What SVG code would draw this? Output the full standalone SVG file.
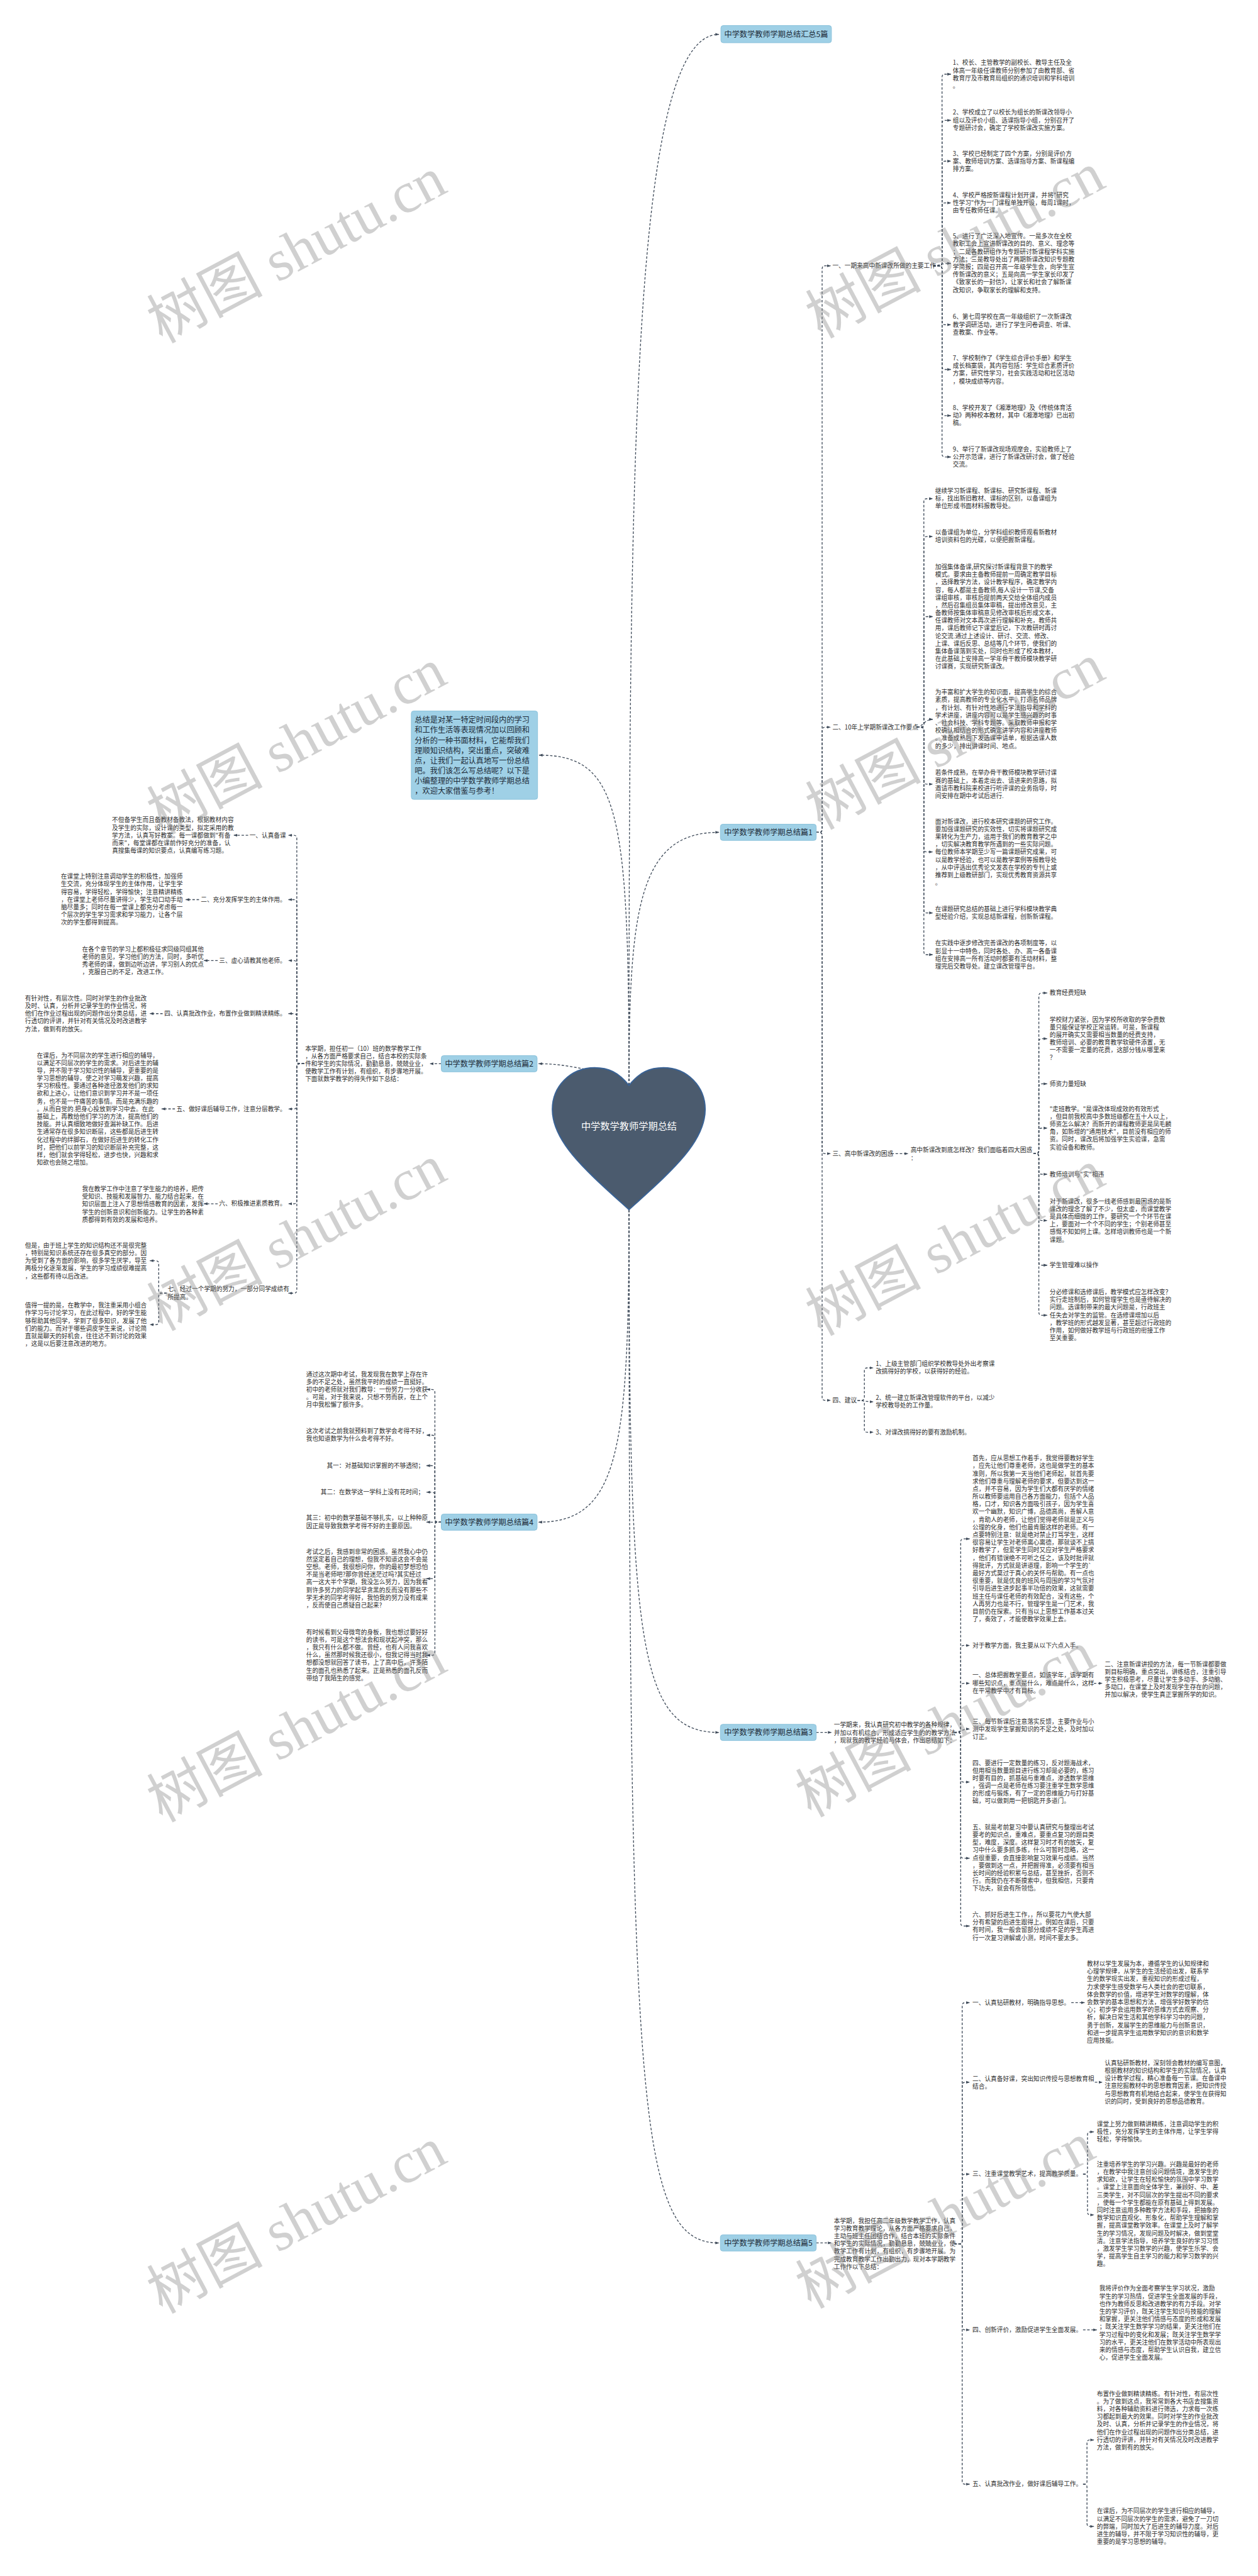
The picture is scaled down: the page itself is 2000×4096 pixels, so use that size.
<svg xmlns="http://www.w3.org/2000/svg" width="2000" height="4096" viewBox="0 0 2000 4096">
<defs>
<style>
.t{font-family:"Noto Sans CJK SC","Liberation Sans",sans-serif;font-size:12.4px;fill:#2d2d2d}
.b{font-family:"Noto Sans CJK SC","Liberation Sans",sans-serif;font-size:15.6px;fill:#1d2b38}
.hb{font-family:"Noto Sans CJK SC","Liberation Sans",sans-serif;font-size:19.5px;fill:#ffffff}
.bx{fill:#9fd0e6;stroke:#87c0da;stroke-width:1.2}
.c{fill:none;stroke:#3e4a59;stroke-width:1.7;stroke-dasharray:5 3.5;marker-end:url(#a)}
.w{font-family:"Liberation Serif","Noto Sans CJK SC",serif;font-size:118px;fill:#8a8a8a;fill-opacity:0.4}
</style>
<marker id="a" viewBox="0 0 10 10" refX="9" refY="5" markerWidth="8" markerHeight="8" orient="auto" markerUnits="userSpaceOnUse"><path d="M0,1.5 L10,5 L0,8.5 z" fill="#3e4a59"/></marker>
</defs>
<rect width="2000" height="4096" fill="#ffffff"/>
<g transform="scale(0.78125)">
<g id="connectors">
<path class="c" d="M1280,2209 C1280,900 1290,70 1463,70"/>
<path class="c" d="M1280,2209 C1280,1850 1300,1694 1463,1694"/>
<path class="c" d="M1280,2209 C1280,1650 1260,1537 1097,1537"/>
<path class="c" d="M1190,2176 C1150,2168 1125,2165 1096,2165"/>
<path class="c" d="M1280,2462 C1280,2950 1260,3098 1096,3098"/>
<path class="c" d="M1280,2462 C1280,3350 1300,3526 1463,3526"/>
<path class="c" d="M1280,2462 C1280,4300 1300,4565 1463,4565"/>
<path class="c" d="M1661,1694 H1667 Q1673,1694 1673,1688 V547 Q1673,541 1679,541 H1690"/>
<path class="c" d="M1661,1694 H1667 Q1673,1694 1673,1688 V1486 Q1673,1480 1679,1480 H1690"/>
<path class="c" d="M1661,1694 H1667 Q1673,1694 1673,1700 V2342 Q1673,2348 1679,2348 H1690"/>
<path class="c" d="M1661,1694 H1667 Q1673,1694 1673,1700 V2844 Q1673,2850 1679,2850 H1690"/>
<path class="c" d="M1899,541 H1911 Q1917,541 1917,535 V157 Q1917,151 1923,151 H1935"/>
<path class="c" d="M1899,541 H1911 Q1917,541 1917,535 V251 Q1917,245 1923,245 H1935"/>
<path class="c" d="M1899,541 H1911 Q1917,541 1917,535 V334 Q1917,328 1923,328 H1935"/>
<path class="c" d="M1899,541 H1911 Q1917,541 1917,535 V419 Q1917,413 1923,413 H1935"/>
<path class="c" d="M1899,541 C1910,541 1915,536 1935,536"/>
<path class="c" d="M1899,541 H1911 Q1917,541 1917,547 V655 Q1917,661 1923,661 H1935"/>
<path class="c" d="M1899,541 H1911 Q1917,541 1917,547 V746 Q1917,752 1923,752 H1935"/>
<path class="c" d="M1899,541 H1911 Q1917,541 1917,547 V840 Q1917,846 1923,846 H1935"/>
<path class="c" d="M1899,541 H1911 Q1917,541 1917,547 V924 Q1917,930 1923,930 H1935"/>
<path class="c" d="M1866,1480 H1874 Q1880,1480 1880,1474 V1021 Q1880,1015 1886,1015 H1898"/>
<path class="c" d="M1866,1480 H1874 Q1880,1480 1880,1474 V1098 Q1880,1092 1886,1092 H1898"/>
<path class="c" d="M1866,1480 H1874 Q1880,1480 1880,1474 V1261 Q1880,1255 1886,1255 H1898"/>
<path class="c" d="M1866,1480 C1876,1480 1882,1464 1898,1464"/>
<path class="c" d="M1866,1480 H1874 Q1880,1480 1880,1486 V1590 Q1880,1596 1886,1596 H1898"/>
<path class="c" d="M1866,1480 H1874 Q1880,1480 1880,1486 V1728 Q1880,1734 1886,1734 H1898"/>
<path class="c" d="M1866,1480 H1874 Q1880,1480 1880,1486 V1852 Q1880,1858 1886,1858 H1898"/>
<path class="c" d="M1866,1480 H1874 Q1880,1480 1880,1486 V1937 Q1880,1943 1886,1943 H1898"/>
<path class="c" d="M1814,2348 H1848"/>
<path class="c" d="M2103,2348 H2108 Q2114,2348 2114,2342 V2027 Q2114,2021 2120,2021 H2131"/>
<path class="c" d="M2103,2348 H2108 Q2114,2348 2114,2342 V2120 Q2114,2114 2120,2114 H2131"/>
<path class="c" d="M2103,2348 H2108 Q2114,2348 2114,2342 V2212 Q2114,2206 2120,2206 H2131"/>
<path class="c" d="M2103,2348 H2108 Q2114,2348 2114,2342 V2302 Q2114,2296 2120,2296 H2131"/>
<path class="c" d="M2103,2348 H2108 Q2114,2348 2114,2354 V2384 Q2114,2390 2120,2390 H2131"/>
<path class="c" d="M2103,2348 H2108 Q2114,2348 2114,2354 V2478 Q2114,2484 2120,2484 H2131"/>
<path class="c" d="M2103,2348 H2108 Q2114,2348 2114,2354 V2569 Q2114,2575 2120,2575 H2131"/>
<path class="c" d="M2103,2348 H2108 Q2114,2348 2114,2354 V2671 Q2114,2677 2120,2677 H2131"/>
<path class="c" d="M1745,2850 H1753 Q1759,2850 1759,2844 V2790 Q1759,2784 1765,2784 H1777"/>
<path class="c" d="M1745,2850 C1755,2850 1762,2853 1777,2853"/>
<path class="c" d="M1745,2850 H1753 Q1759,2850 1759,2856 V2909 Q1759,2915 1765,2915 H1777"/>
<path class="c" d="M898,2165 H875"/>
<path class="c" d="M619,2165 H610 Q604,2165 604,2159 V1706 Q604,1700 598,1700 H587"/>
<path class="c" d="M619,2165 H610 Q604,2165 604,2159 V1837 Q604,1831 598,1831 H587"/>
<path class="c" d="M619,2165 H610 Q604,2165 604,2159 V1961 Q604,1955 598,1955 H587"/>
<path class="c" d="M619,2165 H610 Q604,2165 604,2159 V2069 Q604,2063 598,2063 H587"/>
<path class="c" d="M619,2165 H610 Q604,2165 604,2171 V2251 Q604,2257 598,2257 H587"/>
<path class="c" d="M619,2165 H610 Q604,2165 604,2171 V2444 Q604,2450 598,2450 H587"/>
<path class="c" d="M619,2165 H610 Q604,2165 604,2171 V2626 Q604,2632 598,2632 H587"/>
<path class="c" d="M505,1700 H476"/>
<path class="c" d="M405,1831 H378"/>
<path class="c" d="M443,1955 H415"/>
<path class="c" d="M331,2063 H305"/>
<path class="c" d="M356,2257 H329"/>
<path class="c" d="M443,2450 H415"/>
<path class="c" d="M339,2632 H329 Q323,2632 323,2626 V2572 Q323,2566 317,2566 H305"/>
<path class="c" d="M339,2632 H329 Q323,2632 323,2638 V2690 Q323,2696 317,2696 H305"/>
<path class="c" d="M898,3098 H891 Q885,3098 885,3092 V2834 Q885,2828 879,2828 H868"/>
<path class="c" d="M898,3098 H891 Q885,3098 885,3092 V2927 Q885,2921 879,2921 H868"/>
<path class="c" d="M898,3098 H891 Q885,3098 885,3092 V2989 Q885,2983 879,2983 H868"/>
<path class="c" d="M898,3098 H891 Q885,3098 885,3092 V3043 Q885,3037 879,3037 H868"/>
<path class="c" d="M898,3098 H868"/>
<path class="c" d="M898,3098 H891 Q885,3098 885,3104 V3207 Q885,3213 879,3213 H868"/>
<path class="c" d="M898,3098 H891 Q885,3098 885,3104 V3363 Q885,3369 879,3369 H868"/>
<path class="c" d="M1661,3526 H1692"/>
<path class="c" d="M1942,3526 H1949 Q1955,3526 1955,3520 V3138 Q1955,3132 1961,3132 H1973"/>
<path class="c" d="M1942,3526 H1949 Q1955,3526 1955,3520 V3355 Q1955,3349 1961,3349 H1973"/>
<path class="c" d="M1942,3526 H1949 Q1955,3526 1955,3520 V3432 Q1955,3426 1961,3426 H1973"/>
<path class="c" d="M1942,3526 C1952,3526 1958,3519 1973,3519"/>
<path class="c" d="M1942,3526 H1949 Q1955,3526 1955,3532 V3621 Q1955,3627 1961,3627 H1973"/>
<path class="c" d="M1942,3526 H1949 Q1955,3526 1955,3532 V3776 Q1955,3782 1961,3782 H1973"/>
<path class="c" d="M1942,3526 H1949 Q1955,3526 1955,3532 V3914 Q1955,3920 1961,3920 H1973"/>
<path class="c" d="M2226,3426 H2243"/>
<path class="c" d="M1661,4565 H1692"/>
<path class="c" d="M1942,4567 H1952 Q1958,4567 1958,4561 V4082 Q1958,4076 1964,4076 H1973"/>
<path class="c" d="M1942,4567 H1952 Q1958,4567 1958,4561 V4244 Q1958,4238 1964,4238 H1973"/>
<path class="c" d="M1942,4567 H1952 Q1958,4567 1958,4561 V4431 Q1958,4425 1964,4425 H1973"/>
<path class="c" d="M1942,4567 H1952 Q1958,4567 1958,4573 V4736 Q1958,4742 1964,4742 H1973"/>
<path class="c" d="M1942,4567 H1952 Q1958,4567 1958,4573 V5050 Q1958,5056 1964,5056 H1973"/>
<path class="c" d="M2180,4076 H2207"/>
<path class="c" d="M2228,4238 H2243"/>
<path class="c" d="M2204,4425 H2207 Q2213,4425 2213,4419 V4345 Q2213,4339 2219,4339 H2226"/>
<path class="c" d="M2204,4425 H2207 Q2213,4425 2213,4431 V4502 Q2213,4508 2219,4508 H2226"/>
<path class="c" d="M2204,4742 H2232"/>
<path class="c" d="M2204,5056 H2206 Q2212,5056 2212,5050 V4972 Q2212,4966 2218,4966 H2226"/>
<path class="c" d="M2204,5056 H2206 Q2212,5056 2212,5062 V5136 Q2212,5142 2218,5142 H2226"/>
</g>
<g id="root">
<path d="M1280,2209 C1258,2182 1238,2173 1210,2173 C1160,2173 1124,2212 1124,2258 C1124,2325 1195,2385 1280,2462 C1365,2385 1435,2325 1435,2258 C1435,2212 1399,2173 1350,2173 C1322,2173 1302,2182 1280,2209 Z" fill="#4b5b6e" stroke="#3a6396" stroke-width="2.5"/>
<text class="hb" x="1280" y="2299" text-anchor="middle">中学数学教师学期总结</text>
</g>
<g id="n-all"><rect class="bx" x="1467" y="52" width="225" height="35" rx="5"/><text class="b" x="1579.5" y="75.5" text-anchor="middle">中学数学教师学期总结汇总5篇</text></g>
<g id="n-intro"><rect class="bx" x="837" y="1447" width="257" height="180" rx="5"/>
<text class="b" x="844" y="1471"><tspan x="844">总结是对某一特定时间段内的学习</tspan><tspan x="844" dy="20.7">和工作生活等表现情况加以回顾和</tspan><tspan x="844" dy="20.7">分析的一种书面材料，它能帮我们</tspan><tspan x="844" dy="20.7">理顺知识结构，突出重点，突破难</tspan><tspan x="844" dy="20.7">点，让我们一起认真地写一份总结</tspan><tspan x="844" dy="20.7">吧。我们该怎么写总结呢？以下是</tspan><tspan x="844" dy="20.7">小编整理的中学数学教师学期总结</tspan><tspan x="844" dy="20.7">，欢迎大家借鉴与参考！</tspan></text></g>
<g id="n-p1"><rect class="bx" x="1466" y="1677.5" width="195" height="33" rx="5"/><text class="b" x="1563.5" y="1699.5" text-anchor="middle">中学数学教师学期总结篇1</text></g>
<g id="n-p2"><rect class="bx" x="898" y="2148.5" width="195" height="33" rx="5"/><text class="b" x="995.5" y="2170.5" text-anchor="middle">中学数学教师学期总结篇2</text></g>
<g id="n-p3"><rect class="bx" x="1466" y="3509.5" width="195" height="33" rx="5"/><text class="b" x="1563.5" y="3531.5" text-anchor="middle">中学数学教师学期总结篇3</text></g>
<g id="n-p4"><rect class="bx" x="898" y="3081.5" width="195" height="33" rx="5"/><text class="b" x="995.5" y="3103.5" text-anchor="middle">中学数学教师学期总结篇4</text></g>
<g id="n-p5"><rect class="bx" x="1466" y="4548.5" width="195" height="33" rx="5"/><text class="b" x="1563.5" y="4570.5" text-anchor="middle">中学数学教师学期总结篇5</text></g>

<g id="p1-items">
<text class="t" x="1694" y="545.4">一、一期来高中新课改所做的主要工作</text>
<text class="t" x="1939" y="132.4"><tspan x="1939">1、校长、主管教学的副校长、教导主任及全</tspan><tspan x="1939" dy="15.6">体高一年级任课教师分别参加了由教育部、省</tspan><tspan x="1939" dy="15.6">教育厅及市教育局组织的通识培训和学科培训</tspan><tspan x="1939" dy="15.6">。</tspan></text>
<text class="t" x="1939" y="233.4"><tspan x="1939">2、学校成立了以校长为组长的新课改领导小</tspan><tspan x="1939" dy="15.6">组以及评价小组、选课指导小组，分别召开了</tspan><tspan x="1939" dy="15.6">专题研讨会，确定了学校新课改实施方案。</tspan></text>
<text class="t" x="1939" y="316.9"><tspan x="1939">3、学校已经制定了四个方案，分别是评价方</tspan><tspan x="1939" dy="15.6">案、教师培训方案、选课指导方案、新课程编</tspan><tspan x="1939" dy="15.6">排方案。</tspan></text>
<text class="t" x="1939" y="401.4"><tspan x="1939">4、学校严格按新课程计划开课，并将"研究</tspan><tspan x="1939" dy="15.6">性学习"作为一门课程单独开设，每周1课时，</tspan><tspan x="1939" dy="15.6">由专任教师任课。</tspan></text>
<text class="t" x="1939" y="485.4"><tspan x="1939">5、进行了广泛深入地宣传。一是多次在全校</tspan><tspan x="1939" dy="15.6">教职工会上宣讲新课改的目的、意义、理念等</tspan><tspan x="1939" dy="15.6">；二是各教研组作为专题研讨新课程学科实施</tspan><tspan x="1939" dy="15.6">方法；三是教导处出了两期新课改知识专题教</tspan><tspan x="1939" dy="15.6">学简报；四是召开高一年级学生会，向学生宣</tspan><tspan x="1939" dy="15.6">传新课改的意义；五是向高一学生家长印发了</tspan><tspan x="1939" dy="15.6">《致家长的一封信》，让家长和社会了解新课</tspan><tspan x="1939" dy="15.6">改知识，争取家长的理解和支持。</tspan></text>
<text class="t" x="1939" y="649.4"><tspan x="1939">6、第七周学校在高一年级组织了一次新课改</tspan><tspan x="1939" dy="15.6">教学调研活动，进行了学生问卷调查、听课、</tspan><tspan x="1939" dy="15.6">查教案、作业等。</tspan></text>
<text class="t" x="1939" y="733.4"><tspan x="1939">7、学校制作了《学生综合评价手册》和学生</tspan><tspan x="1939" dy="15.6">成长档案袋，其内容包括：学生综合素质评价</tspan><tspan x="1939" dy="15.6">方案，研究性学习，社会实践活动和社区活动</tspan><tspan x="1939" dy="15.6">，模块成绩等内容。</tspan></text>
<text class="t" x="1939" y="834.4"><tspan x="1939">8、学校开发了《湘潭地理》及《传统体育活</tspan><tspan x="1939" dy="15.6">动》两种校本教材，其中《湘潭地理》已出初</tspan><tspan x="1939" dy="15.6">稿。</tspan></text>
<text class="t" x="1939" y="918.9"><tspan x="1939">9、举行了新课改现场观摩会，实验教师上了</tspan><tspan x="1939" dy="15.6">公开示范课，进行了新课改研讨会，做了经验</tspan><tspan x="1939" dy="15.6">交流。</tspan></text>

<text class="t" x="1694" y="1484.4">二、10年上学期新课改工作要点</text>
<text class="t" x="1903" y="1003.4"><tspan x="1903">继续学习新课程、新课标、研究新课程、新课</tspan><tspan x="1903" dy="15.6">标，找出新旧教材、课标的区别，以备课组为</tspan><tspan x="1903" dy="15.6">单位形成书面材料报教导处。</tspan></text>
<text class="t" x="1903" y="1088.4"><tspan x="1903">以备课组为单位，分学科组织教师观看新教材</tspan><tspan x="1903" dy="15.6">培训资料包的光碟，以便把握新课程。</tspan></text>
<text class="t" x="1903" y="1158.4"><tspan x="1903">加强集体备课,研究探讨新课程背景下的教学</tspan><tspan x="1903" dy="15.6">模式。要求由主备教师提前一周确定教学目标</tspan><tspan x="1903" dy="15.6">，选择教学方法，设计教学程序，确定教学内</tspan><tspan x="1903" dy="15.6">容，每人都是主备教师,每人设计一节课,交备</tspan><tspan x="1903" dy="15.6">课组审核，审核后提前两天交给全体组内成员</tspan><tspan x="1903" dy="15.6">，然后召集组员集体审稿，提出修改意见，主</tspan><tspan x="1903" dy="15.6">备教师按集体审稿意见修改审核后形成文本，</tspan><tspan x="1903" dy="15.6">任课教师对文本再次进行理解和补充，教师共</tspan><tspan x="1903" dy="15.6">用，课后教师记下课堂后记，下次教研时再讨</tspan><tspan x="1903" dy="15.6">论交流.通过上述设计、研讨、交流、修改、</tspan><tspan x="1903" dy="15.6">上课、课后反思、总结等几个环节，使我们的</tspan><tspan x="1903" dy="15.6">集体备课落到实处，同时也形成了校本教材，</tspan><tspan x="1903" dy="15.6">在此基础上安排高一学年骨干教师模块教学研</tspan><tspan x="1903" dy="15.6">讨课赛，实现研究新课改。</tspan></text>
<text class="t" x="1903" y="1413.4"><tspan x="1903">为丰富和扩大学生的知识面，提高学生的综合</tspan><tspan x="1903" dy="15.6">素质，提高教师的专业化水平，打造名师品牌</tspan><tspan x="1903" dy="15.6">，有计划、有针对性地进行学法指导和学科的</tspan><tspan x="1903" dy="15.6">学术讲座，讲座内容可以是学生感兴趣的时事</tspan><tspan x="1903" dy="15.6">、社会科技、学科专题等。采取教师申报和学</tspan><tspan x="1903" dy="15.6">校确认相结合的形式确定讲学内容和讲座教师</tspan><tspan x="1903" dy="15.6">。准备成熟后下发选课申请单，根据选课人数</tspan><tspan x="1903" dy="15.6">的多少，排出讲课时间、地点。</tspan></text>
<text class="t" x="1903" y="1577.4"><tspan x="1903">若条件成熟，在举办骨干教师模块教学研讨课</tspan><tspan x="1903" dy="15.6">赛的基础上，本着走出去、请进来的思路，拟</tspan><tspan x="1903" dy="15.6">邀请市教科院来校进行听评课的业务指导，时</tspan><tspan x="1903" dy="15.6">间安排在期中考试后进行.</tspan></text>
<text class="t" x="1903" y="1676.4"><tspan x="1903">面对新课改，进行校本研究课题的研究工作。</tspan><tspan x="1903" dy="15.6">要加强课题研究的实效性，切实将课题研究成</tspan><tspan x="1903" dy="15.6">果转化为生产力，运用于我们的教育教学之中</tspan><tspan x="1903" dy="15.6">，切实解决教育教学所遇到的一些实际问题。</tspan><tspan x="1903" dy="15.6">每位教师本学期至少写一篇课题研究成果，可</tspan><tspan x="1903" dy="15.6">以是教学经验，也可以是教学案例等报教导处</tspan><tspan x="1903" dy="15.6">，从中评选出优秀论文发表在学校的专刊上或</tspan><tspan x="1903" dy="15.6">推荐到上级教研部门，实现优秀教育资源共享</tspan><tspan x="1903" dy="15.6">。</tspan></text>
<text class="t" x="1903" y="1854.4"><tspan x="1903">在课题研究总结的基础上进行学科模块教学典</tspan><tspan x="1903" dy="15.6">型经验介绍，实现总结新课程，创新新课程。</tspan></text>
<text class="t" x="1903" y="1924.4"><tspan x="1903">在实践中逐步修改完善课改的各项制度等，以</tspan><tspan x="1903" dy="15.6">彰显十一中特色，同时各处、办、高一各备课</tspan><tspan x="1903" dy="15.6">组在安排高一所有活动时都要有活动材料，整</tspan><tspan x="1903" dy="15.6">理完后交教导处。建立课改管理平台。</tspan></text>

<text class="t" x="1694" y="2352.4">三、高中新课改的困惑</text>
<text class="t" x="1853" y="2345.4"><tspan x="1853">高中新课改到底怎样改？我们面临着四大困惑</tspan><tspan x="1853" dy="15.6">：</tspan></text>
<text class="t" x="2136" y="2025.4">教育经费短缺</text>
<text class="t" x="2136" y="2079.4"><tspan x="2136">学校财力紧张，因为学校所收取的学杂费数</tspan><tspan x="2136" dy="15.6">量只能保证学校正常运转。可是，新课程</tspan><tspan x="2136" dy="15.6">的展开确实又需要相当数量的经费支持，</tspan><tspan x="2136" dy="15.6">教师培训、必要的教育教学软硬件添置，无</tspan><tspan x="2136" dy="15.6">一不需要一定量的花费，这部分钱从哪里来</tspan><tspan x="2136" dy="15.6">？</tspan></text>
<text class="t" x="2136" y="2210.4">师资力量短缺</text>
<text class="t" x="2136" y="2261.4"><tspan x="2136">"走班教学。"是课改体现成效的有效形式</tspan><tspan x="2136" dy="15.6">，但目前我校高中多数班级都在五十人以上，</tspan><tspan x="2136" dy="15.6">师资怎么解决？而新开的课程教师更是凤毛麟</tspan><tspan x="2136" dy="15.6">角，如新增的"通用技术"，目前没有相应的师</tspan><tspan x="2136" dy="15.6">资。同时，课改后将加强学生实验课，急需</tspan><tspan x="2136" dy="15.6">实验设备和教师。</tspan></text>
<text class="t" x="2136" y="2394.4">教师培训与"实"相违</text>
<text class="t" x="2136" y="2449.4"><tspan x="2136">对于新课改，很多一线老师感到最困惑的是新</tspan><tspan x="2136" dy="15.6">课改的理念了解了不少，但太虚，而课堂教学</tspan><tspan x="2136" dy="15.6">是具体而细微的工作，要研究一个个环节在课</tspan><tspan x="2136" dy="15.6">上，要面对一个个不同的学生；个别老师甚至</tspan><tspan x="2136" dy="15.6">感慨不知如何上课。怎样培训教师也是一个新</tspan><tspan x="2136" dy="15.6">课题。</tspan></text>
<text class="t" x="2136" y="2579.4">学生管理难以操作</text>
<text class="t" x="2136" y="2634.4"><tspan x="2136">分必修课和选修课后，教学模式应怎样改变？</tspan><tspan x="2136" dy="15.6">实行走班制后，如何管理学生也是亟待解决的</tspan><tspan x="2136" dy="15.6">问题。选课制带来的最大问题是，行政班主</tspan><tspan x="2136" dy="15.6">任失去对学生的监管。在选修课增加以后</tspan><tspan x="2136" dy="15.6">，教学班的形式越发显著，甚至超过行政班的</tspan><tspan x="2136" dy="15.6">作用，如何做好教学班与行政班的衔接工作</tspan><tspan x="2136" dy="15.6">至关重要。</tspan></text>

<text class="t" x="1694" y="2854.4">四、建议</text>
<text class="t" x="1782" y="2780.4"><tspan x="1782">1、上级主管部门组织学校教导处外出考察课</tspan><tspan x="1782" dy="15.6">改搞得好的学校，以获得好的经验。</tspan></text>
<text class="t" x="1782" y="2849.4"><tspan x="1782">2、统一建立新课改管理软件的平台，以减少</tspan><tspan x="1782" dy="15.6">学校教导处的工作量。</tspan></text>
<text class="t" x="1782" y="2919.4">3、对课改搞得好的要有激励机制。</text>
</g>

<g id="p2-items">
<text class="t" x="621" y="2138.4"><tspan x="621">本学期，担任初一（10）班的数学教学工作</tspan><tspan x="621" dy="15.6">，从各方面严格要求自己，结合本校的实际条</tspan><tspan x="621" dy="15.6">件和学生的实际情况，勤勤恳恳，兢兢业业，</tspan><tspan x="621" dy="15.6">使教学工作有计划，有组织，有步骤地开展。</tspan><tspan x="621" dy="15.6">下面就数学教学的得失作如下总结：</tspan></text>
<text class="t" x="582" y="1704.4" text-anchor="end">一、认真备课</text>
<text class="t" x="228" y="1673.4"><tspan x="228">不但备学生而且备教材备教法，根据教材内容</tspan><tspan x="228" dy="15.6">及学生的实际，设计课的类型，拟定采用的教</tspan><tspan x="228" dy="15.6">学方法，认真写好教案。每一课都做到"有备</tspan><tspan x="228" dy="15.6">而来"，每堂课都在课前作好充分的准备，认</tspan><tspan x="228" dy="15.6">真搜集每课的知识要点，认真编写练习题。</tspan></text>
<text class="t" x="582" y="1835.4" text-anchor="end">二、充分发挥学生的主体作用。</text>
<text class="t" x="124" y="1788.4"><tspan x="124">在课堂上特别注意调动学生的积极性，加强师</tspan><tspan x="124" dy="15.6">生交流，充分体现学生的主体作用，让学生学</tspan><tspan x="124" dy="15.6">得容易，学得轻松，学得愉快；注意精讲精练</tspan><tspan x="124" dy="15.6">，在课堂上老师尽量讲得少，学生动口动手动</tspan><tspan x="124" dy="15.6">脑尽量多；同时在每一堂课上都充分考虑每一</tspan><tspan x="124" dy="15.6">个层次的学生学习需求和学习能力，让各个层</tspan><tspan x="124" dy="15.6">次的学生都得到提高。</tspan></text>
<text class="t" x="582" y="1959.4" text-anchor="end">三、虚心请教其他老师。</text>
<text class="t" x="167" y="1936.4"><tspan x="167">在各个章节的学习上都积极征求同级同组其他</tspan><tspan x="167" dy="15.6">老师的意见，学习他们的方法，同时，多听优</tspan><tspan x="167" dy="15.6">秀老师的课，做到边听边讲，学习别人的优点</tspan><tspan x="167" dy="15.6">，克服自己的不足，改进工作。</tspan></text>
<text class="t" x="582" y="2067.4" text-anchor="end">四、认真批改作业，布置作业做到精读精练。</text>
<text class="t" x="51" y="2036.4"><tspan x="51">有针对性，有层次性。同时对学生的作业批改</tspan><tspan x="51" dy="15.6">及时、认真，分析并记录学生的作业情况，将</tspan><tspan x="51" dy="15.6">他们在作业过程出现的问题作出分类总结，进</tspan><tspan x="51" dy="15.6">行透切的评讲，并针对有关情况及时改进教学</tspan><tspan x="51" dy="15.6">方法，做到有的放矢。</tspan></text>
<text class="t" x="582" y="2261.4" text-anchor="end">五、做好课后辅导工作，注意分层教学。</text>
<text class="t" x="75" y="2152.4"><tspan x="75">在课后，为不同层次的学生进行相应的辅导，</tspan><tspan x="75" dy="15.6">以满足不同层次的学生的需求。对后进生的辅</tspan><tspan x="75" dy="15.6">导，并不限于学习知识性的辅导，更重要的是</tspan><tspan x="75" dy="15.6">学习思想的辅导，使之对学习萌发兴趣，提高</tspan><tspan x="75" dy="15.6">学习积极性。要通过各种途径激发他们的求知</tspan><tspan x="75" dy="15.6">欲和上进心，让他们意识到学习并不是一项任</tspan><tspan x="75" dy="15.6">务，也不是一件痛苦的事情。而是充满乐趣的</tspan><tspan x="75" dy="15.6">。从而自觉的.把身心投放到学习中去。在此</tspan><tspan x="75" dy="15.6">基础上，再教给他们学习的方法，提高他们的</tspan><tspan x="75" dy="15.6">技能。并认真细致地做好查漏补缺工作。后进</tspan><tspan x="75" dy="15.6">生通常存在很多知识断层，这些都是后进生转</tspan><tspan x="75" dy="15.6">化过程中的绊脚石，在做好后进生的转化工作</tspan><tspan x="75" dy="15.6">时，把他们以前学习的知识断层补充完整，这</tspan><tspan x="75" dy="15.6">样，他们就会学得轻松，进步也快，兴趣和求</tspan><tspan x="75" dy="15.6">知欲也会随之增加。</tspan></text>
<text class="t" x="582" y="2454.4" text-anchor="end">六、积极推进素质教育。</text>
<text class="t" x="167" y="2424.4"><tspan x="167">我在教学工作中注意了学生能力的培养，把传</tspan><tspan x="167" dy="15.6">受知识、技能和发展智力、能力结合起来，在</tspan><tspan x="167" dy="15.6">知识层面上注入了思想情感教育的因素，发挥</tspan><tspan x="167" dy="15.6">学生的创新意识和创新能力。让学生的各种素</tspan><tspan x="167" dy="15.6">质都得到有效的发展和培养。</tspan></text>
<text class="t" x="341" y="2628.4"><tspan x="341">七、经过一个学期的努力，一部分同学成绩有</tspan><tspan x="341" dy="15.6">所提高。</tspan></text>
<text class="t" x="51" y="2539.4"><tspan x="51">但是，由于班上学生的知识结构还不是很完整</tspan><tspan x="51" dy="15.6">，特别是知识系统还存在很多真空的部分。因</tspan><tspan x="51" dy="15.6">为受到了各方面的影响，很多学生厌学，导至</tspan><tspan x="51" dy="15.6">两极分化逐渐发展，学生的学习成绩很难提高</tspan><tspan x="51" dy="15.6">，这些都有待以后改进。</tspan></text>
<text class="t" x="51" y="2661.4"><tspan x="51">值得一提的是，在教学中，我注重采用小组合</tspan><tspan x="51" dy="15.6">作学习与讨论学习，在此过程中，好的学生能</tspan><tspan x="51" dy="15.6">够帮助其他同学，学到了很多知识，发展了他</tspan><tspan x="51" dy="15.6">们的能力。而对于哪些调皮学生来说，讨论简</tspan><tspan x="51" dy="15.6">直就是聊天的好机会，往往达不到讨论的效果</tspan><tspan x="51" dy="15.6">，这是以后要注意改进的地方。</tspan></text>
</g>

<g id="p4-items">
<text class="t" x="623" y="2801.4"><tspan x="623">通过这次期中考试，我发现我在数学上存在许</tspan><tspan x="623" dy="15.6">多的不足之处，虽然我平时的成绩一直挺好。</tspan><tspan x="623" dy="15.6">初中的老师就对我们教导：一份努力一分收获</tspan><tspan x="623" dy="15.6">。可是，对于我来说，只想不劳而获，在上个</tspan><tspan x="623" dy="15.6">月中我松懈了额许多。</tspan></text>
<text class="t" x="623" y="2917.4"><tspan x="623">这次考试之前我就预料到了数学会考得不好，</tspan><tspan x="623" dy="15.6">我也知道数学为什么会考得不好。</tspan></text>
<text class="t" x="863" y="2987.4" text-anchor="end">其一：对基础知识掌握的不够透彻；</text>
<text class="t" x="863" y="3041.4" text-anchor="end">其二：在数学这一学科上没有花时间；</text>
<text class="t" x="623" y="3094.4"><tspan x="623">其三：初中的数学基础不够扎实，以上种种原</tspan><tspan x="623" dy="15.6">因正是导致我数学考得不好的主要原因。</tspan></text>
<text class="t" x="623" y="3162.4"><tspan x="623">考试之后，我感到非常的困惑。虽然我心中仍</tspan><tspan x="623" dy="15.6">然坚定着自己的理想，但我不知道这会不会是</tspan><tspan x="623" dy="15.6">空想。老师，我很想问你，你的最初梦想恐怕</tspan><tspan x="623" dy="15.6">不是当老师吧?那你曾经迷茫过吗?其实经过</tspan><tspan x="623" dy="15.6">高一这大半个学期，我没怎么努力，因为我看</tspan><tspan x="623" dy="15.6">到许多努力的同学起早贪黑的反而没有那些不</tspan><tspan x="623" dy="15.6">学无术的同学考得好，我怕我的努力没有成果</tspan><tspan x="623" dy="15.6">，反而使自己质疑自己起来?</tspan></text>
<text class="t" x="623" y="3326.4"><tspan x="623">有时候看到父母微弯的身板，我也想过要好好</tspan><tspan x="623" dy="15.6">的读书，可是这个想法会和现状起冲突，那么</tspan><tspan x="623" dy="15.6">，我只有什么都不做。曾经，也有人问我喜欢</tspan><tspan x="623" dy="15.6">什么，虽然那时候我还很小，但我记得当时我</tspan><tspan x="623" dy="15.6">想都没想就回答了读书，上了高中后，许多陌</tspan><tspan x="623" dy="15.6">生的面孔也熟悉了起来。正是熟悉的面孔反而</tspan><tspan x="623" dy="15.6">带给了我陌生的感觉。</tspan></text>
</g>

<g id="p3-items">
<text class="t" x="1697" y="3515.4"><tspan x="1697">一学期来，我认真研究初中教学的各种规律，</tspan><tspan x="1697" dy="15.6">并加以有机综合，形成适应学生的的教学方法</tspan><tspan x="1697" dy="15.6">，现就我的教学经验与体会，作出总结如下：</tspan></text>
<text class="t" x="1979" y="2972.4"><tspan x="1979">首先，应从思想工作着手，我觉得要教好学生</tspan><tspan x="1979" dy="15.6">，应先让他们尊重老师，这也是做学生的基本</tspan><tspan x="1979" dy="15.6">准则，所以我第一天当他们老师起，就首先要</tspan><tspan x="1979" dy="15.6">求他们尊重与理解老师的要求，但要达到这一</tspan><tspan x="1979" dy="15.6">点，并不容易，因为学生们大都有厌学的情绪</tspan><tspan x="1979" dy="15.6">所以教师要运用自己各方面能力，包括个人品</tspan><tspan x="1979" dy="15.6">格，口才，知识各方面吸引孩子，因为学生喜</tspan><tspan x="1979" dy="15.6">欢一个幽默，知识广博，品德高尚，善解人意</tspan><tspan x="1979" dy="15.6">，肯助人的老师，让他们觉得老师就是正义与</tspan><tspan x="1979" dy="15.6">公理的化身，他们也最肯服这样的老师。有一</tspan><tspan x="1979" dy="15.6">点要特别注意：就是绝对禁止打骂学生，这样</tspan><tspan x="1979" dy="15.6">很容易让学生对老师离心离德，那就谈不上搞</tspan><tspan x="1979" dy="15.6">好教学了，但爱学生同时又应对学生严格要求</tspan><tspan x="1979" dy="15.6">，他们有错误绝不可听之任之，该及时批评就</tspan><tspan x="1979" dy="15.6">得批评，方式就是讲道理，影响一个学生的`</tspan><tspan x="1979" dy="15.6">最好方式莫过于真心的关怀与帮助。有一点也</tspan><tspan x="1979" dy="15.6">很重要，就是优良的班风与周围的学习气氛对</tspan><tspan x="1979" dy="15.6">引导后进生进步起事半功倍的效果，这就需要</tspan><tspan x="1979" dy="15.6">班主任与课任老师的有效配合，没有这些，个</tspan><tspan x="1979" dy="15.6">人再努力也是不行，管理学生是一门艺术，我</tspan><tspan x="1979" dy="15.6">目前仍在探索。只有当以上思想工作基本过关</tspan><tspan x="1979" dy="15.6">了，奏效了，才能使教学效果上去。</tspan></text>
<text class="t" x="1979" y="3353.4">对于教学方面，我主要从以下六点入手。</text>
<text class="t" x="1979" y="3414.4"><tspan x="1979">一、总体把握教学要点，如该学年，该学期有</tspan><tspan x="1979" dy="15.6">哪些知识点，重点是什么，难点是什么，这样</tspan><tspan x="1979" dy="15.6">在平常教学中才有目标。</tspan></text>
<text class="t" x="2248" y="3391.4"><tspan x="2248">二、注意新课讲授的方法，每一节新课都要做</tspan><tspan x="2248" dy="15.6">到目标明确，重点突出，讲练结合，注重引导</tspan><tspan x="2248" dy="15.6">学生积极思考，尽量让学生多动手、多动脑、</tspan><tspan x="2248" dy="15.6">多动口，在课堂上及时发现学生存在的问题，</tspan><tspan x="2248" dy="15.6">并加以解决，使学生真正掌握所学的知识。</tspan></text>
<text class="t" x="1979" y="3508.4"><tspan x="1979">三、每节新课后注意落实反馈，主要作业与小</tspan><tspan x="1979" dy="15.6">测中发现学生掌握知识的不足之处，及时加以</tspan><tspan x="1979" dy="15.6">订正。</tspan></text>
<text class="t" x="1979" y="3592.4"><tspan x="1979">四、要进行一定数量的练习，反对题海战术，</tspan><tspan x="1979" dy="15.6">但用相当数量题目进行练习却是必要的，练习</tspan><tspan x="1979" dy="15.6">时要有目的，抓基础与重难点，渗透数学思维</tspan><tspan x="1979" dy="15.6">，强调一点是老师在练习要注重学生数学思维</tspan><tspan x="1979" dy="15.6">的形成与锻炼，有了一定的思维能力与打好基</tspan><tspan x="1979" dy="15.6">础，可以做到用一把钥匙开多道门。</tspan></text>
<text class="t" x="1979" y="3723.4"><tspan x="1979">五、就是考前复习中要认真研究与整理出考试</tspan><tspan x="1979" dy="15.6">要考的知识点，重难点，要重点复习的题目类</tspan><tspan x="1979" dy="15.6">型，难度，深度。这样复习时才有的放矢，复</tspan><tspan x="1979" dy="15.6">习中什么要多抓多练，什么可暂时忽略，这一</tspan><tspan x="1979" dy="15.6">点很重要，会直接影响复习效果与成绩。当然</tspan><tspan x="1979" dy="15.6">，要做到这一点，并把握得准，必须要有相当</tspan><tspan x="1979" dy="15.6">长时间的经验积累与总结，甚至挫折，否则不</tspan><tspan x="1979" dy="15.6">行。而我仍在不断摸索中，但我相信，只要肯</tspan><tspan x="1979" dy="15.6">下功夫，就会有所领悟。</tspan></text>
<text class="t" x="1979" y="3901.4"><tspan x="1979">六、抓好后进生工作，，所以要花力气使大部</tspan><tspan x="1979" dy="15.6">分有希望的后进生跟得上。例如在课后，只要</tspan><tspan x="1979" dy="15.6">有时间，我一般会留部分成绩不足的学生再进</tspan><tspan x="1979" dy="15.6">行一次复习讲解或小测，时间不要太多。</tspan></text>
</g>

<g id="p5-items">
<text class="t" x="1697" y="4524.4"><tspan x="1697">本学期，我担任高二年级数学教学工作，认真</tspan><tspan x="1697" dy="15.6">学习教育教学理论，从各方面严格要求自己，</tspan><tspan x="1697" dy="15.6">主动与班主任团结合作，结合本班的实际条件</tspan><tspan x="1697" dy="15.6">和学生的实际情况，勤勤恳恳，兢兢业业，使</tspan><tspan x="1697" dy="15.6">教学工作有计划，有组织，有步骤地开展。为</tspan><tspan x="1697" dy="15.6">完成教育教学工作出勤出力，现对本学期教学</tspan><tspan x="1697" dy="15.6">工作作以下总结：</tspan></text>
<text class="t" x="1979" y="4080.4">一、认真钻研教材，明确指导思想。</text>
<text class="t" x="2212" y="4001.4"><tspan x="2212">教材以学生发展为本，遵循学生的认知规律和</tspan><tspan x="2212" dy="15.6">心理学规律，从学生的生活经验出发，联系学</tspan><tspan x="2212" dy="15.6">生的数学现实出发，重视知识的形成过程，</tspan><tspan x="2212" dy="15.6">力求使学生感受数学与人类社会的密切联系，</tspan><tspan x="2212" dy="15.6">体会数学的价值，增进学生对数学的理解，体</tspan><tspan x="2212" dy="15.6">会数学的基本思想和方法，增强学好数学的信</tspan><tspan x="2212" dy="15.6">心；初步学会运用数学的思维方式去观察、分</tspan><tspan x="2212" dy="15.6">析，解决日常生活和其他学科学习中的问题，</tspan><tspan x="2212" dy="15.6">勇于创新，发展学生的思维能力与创新意识，</tspan><tspan x="2212" dy="15.6">和进一步提高学生运用数学知识的意识和数学</tspan><tspan x="2212" dy="15.6">应用技能。</tspan></text>
<text class="t" x="1979" y="4235.4"><tspan x="1979">二、认真备好课，突出知识传授与思想教育相</tspan><tspan x="1979" dy="15.6">结合。</tspan></text>
<text class="t" x="2248" y="4203.4"><tspan x="2248">认真钻研新教材，深刻领会教材的编写意图，</tspan><tspan x="2248" dy="15.6">根据教材的知识结构和学生的实际情况，认真</tspan><tspan x="2248" dy="15.6">设计教学过程，精心准备每一节课。在备课中</tspan><tspan x="2248" dy="15.6">注意挖掘教材中的思想教育因素，把知识传授</tspan><tspan x="2248" dy="15.6">与思想教育有机地结合起来，使学生在获得知</tspan><tspan x="2248" dy="15.6">识的同时，受到良好的思想品德教育。</tspan></text>
<text class="t" x="1979" y="4429.4">三、注重课堂教学艺术，提高教学质量。</text>
<text class="t" x="2232" y="4327.4"><tspan x="2232">课堂上努力做到精讲精练，注意调动学生的积</tspan><tspan x="2232" dy="15.6">极性，充分发挥学生的主体作用，让学生学得</tspan><tspan x="2232" dy="15.6">轻松，学得愉快。</tspan></text>
<text class="t" x="2232" y="4409.4"><tspan x="2232">注重培养学生的学习兴趣。兴趣是最好的老师</tspan><tspan x="2232" dy="15.6">，在教学中我注意创设问题情境，激发学生的</tspan><tspan x="2232" dy="15.6">求知欲，让学生在轻松愉快的氛围中学习数学</tspan><tspan x="2232" dy="15.6">。课堂上注意面向全体学生，兼顾好、中、差</tspan><tspan x="2232" dy="15.6">三类学生，对不同层次的学生提出不同的要求</tspan><tspan x="2232" dy="15.6">，使每一个学生都能在原有基础上得到发展。</tspan><tspan x="2232" dy="15.6">同时注意运用多种教学方法和手段，把抽象的</tspan><tspan x="2232" dy="15.6">数学知识直观化、形象化，帮助学生理解和掌</tspan><tspan x="2232" dy="15.6">握，提高课堂教学效率。在课堂上及时了解学</tspan><tspan x="2232" dy="15.6">生的学习情况，发现问题及时解决，做到堂堂</tspan><tspan x="2232" dy="15.6">清。注意学法指导，培养学生良好的学习习惯</tspan><tspan x="2232" dy="15.6">，激发学生学习数学的兴趣，使学生乐学、会</tspan><tspan x="2232" dy="15.6">学，提高学生自主学习的能力和学习数学的兴</tspan><tspan x="2232" dy="15.6">趣。</tspan></text>
<text class="t" x="1979" y="4746.4">四、创新评价，激励促进学生全面发展。</text>
<text class="t" x="2237" y="4662.4"><tspan x="2237">我将评价作为全面考察学生学习状况，激励</tspan><tspan x="2237" dy="15.6">学生的学习热情，促进学生全面发展的手段，</tspan><tspan x="2237" dy="15.6">也作为教师反思和改进教学的有力手段。对学</tspan><tspan x="2237" dy="15.6">生的学习评价，既关注学生知识与技能的理解</tspan><tspan x="2237" dy="15.6">和掌握，更关注他们情感与态度的形成和发展</tspan><tspan x="2237" dy="15.6">；既关注学生数学学习的结果，更关注他们在</tspan><tspan x="2237" dy="15.6">学习过程中的变化和发展；既关注学生数学学</tspan><tspan x="2237" dy="15.6">习的水平，更关注他们在数学活动中所表现出</tspan><tspan x="2237" dy="15.6">来的情感与态度，帮助学生认识自我，建立信</tspan><tspan x="2237" dy="15.6">心，促进学生全面发展。</tspan></text>
<text class="t" x="1979" y="5060.4">五、认真批改作业，做好课后辅导工作。</text>
<text class="t" x="2232" y="4876.4"><tspan x="2232">布置作业做到精读精练。有针对性，有层次性</tspan><tspan x="2232" dy="15.6">。为了做到这点，我常常到各大书店去搜集资</tspan><tspan x="2232" dy="15.6">料，对各种辅助资料进行筛选，力求每一次练</tspan><tspan x="2232" dy="15.6">习都起到最大的效果。同时对学生的作业批改</tspan><tspan x="2232" dy="15.6">及时、认真，分析并记录学生的作业情况，将</tspan><tspan x="2232" dy="15.6">他们在作业过程出现的问题作出分类总结，进</tspan><tspan x="2232" dy="15.6">行透切的评讲，并针对有关情况及时改进教学</tspan><tspan x="2232" dy="15.6">方法，做到有的放矢。</tspan></text>
<text class="t" x="2232" y="5115.4"><tspan x="2232">在课后，为不同层次的学生进行相应的辅导，</tspan><tspan x="2232" dy="15.6">以满足不同层次的学生的需求，避免了一刀切</tspan><tspan x="2232" dy="15.6">的弊端，同时加大了后进生的辅导力度。对后</tspan><tspan x="2232" dy="15.6">进生的辅导，并不限于学习知识性的辅导，更</tspan><tspan x="2232" dy="15.6">重要的是学习思想的辅导。</tspan></text>
</g>

<g id="watermarks">
<text class="w" transform="translate(330,700) rotate(-28)">树图 shutu.cn</text>
<text class="w" transform="translate(1670,690) rotate(-28)">树图 shutu.cn</text>
<text class="w" transform="translate(330,1700) rotate(-28)">树图 shutu.cn</text>
<text class="w" transform="translate(1670,1690) rotate(-28)">树图 shutu.cn</text>
<text class="w" transform="translate(330,2710) rotate(-28)">树图 shutu.cn</text>
<text class="w" transform="translate(1670,2720) rotate(-28)">树图 shutu.cn</text>
<text class="w" transform="translate(330,3710) rotate(-28)">树图 shutu.cn</text>
<text class="w" transform="translate(1650,3700) rotate(-28)">树图 shutu.cn</text>
<text class="w" transform="translate(330,4710) rotate(-28)">树图 shutu.cn</text>
<text class="w" transform="translate(1650,4700) rotate(-28)">树图 shutu.cn</text>
</g>
</g>
</svg>
